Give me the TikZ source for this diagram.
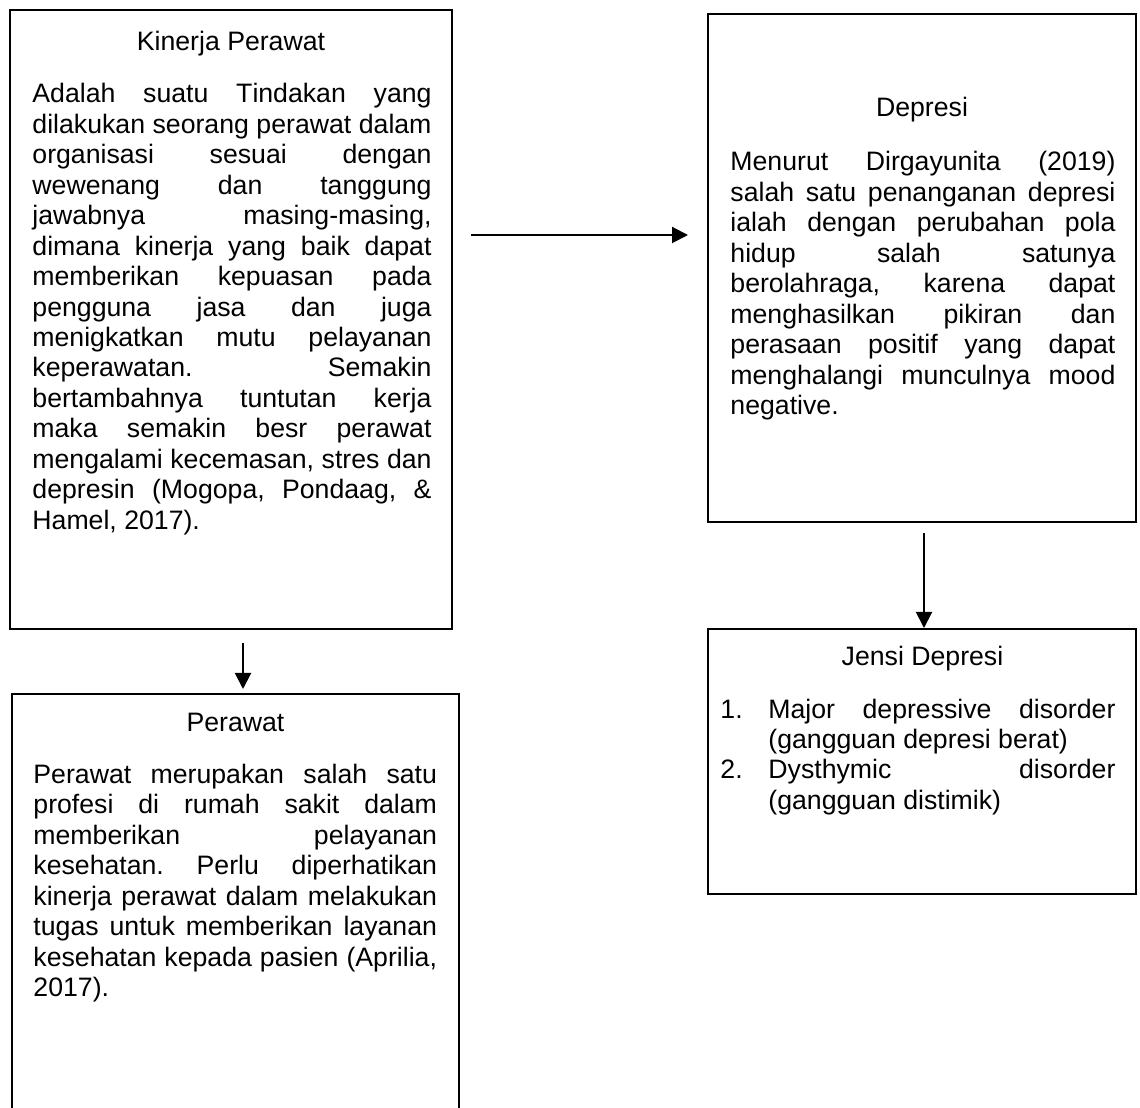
\documentclass[tikz,border=0pt]{standalone}
\usepackage{fontspec}
\setmainfont{Liberation Sans}[Kerning=Off]
\usetikzlibrary{arrows.meta}
\newcommand{\boxpar}[2]{\parbox[t]{#1}{\fontsize{12pt}{13.7pt}\selectfont\frenchspacing\hyphenpenalty=10000 \exhyphenpenalty=10000 \hbadness=10000 \tolerance=10000 #2}}
\tikzset{
  box/.style={draw, line width=0.9pt, anchor=north west, inner sep=0pt, outer sep=0pt},
  ttl/.style={anchor=base, inner sep=0pt, font=\fontsize{12pt}{13.7pt}\selectfont},
  txt/.style={anchor=base west, inner sep=0pt},
  conn/.style={line width=0.9pt, -{Triangle[length=7.2pt, width=7.2pt]}}
}
\begin{document}
\begin{tikzpicture}[x=0.45pt, y=-0.45pt]
\useasboundingbox (0,0) rectangle (1140,1108);
% boxes
\node[box, minimum width=198.9pt, minimum height=278.55pt] (k) at (10,10) {};
\node[box, minimum width=201.15pt, minimum height=193.5pt] (p) at (12,694) {};
\node[box, minimum width=192.6pt, minimum height=228.6pt] (d) at (708,14) {};
\node[box, minimum width=192.6pt, minimum height=119.25pt] (j) at (708,629) {};
% titles
\node[ttl] (kh) at (231,51) {Kinerja Perawat};
\node[ttl] (ph) at (235.5,731) {Perawat};
\node[ttl] (dh) at (922,117) {Depresi};
\node[ttl] (jh) at (922.5,666) {Jensi Depresi};
% bodies
\node[txt] (kt) at (32,103) {\boxpar{179.6pt}{%
Adalah suatu Tindakan yang\linebreak
dilakukan seorang perawat dalam\linebreak
organisasi sesuai dengan\linebreak
wewenang dan tanggung\linebreak
jawabnya masing-masing,\linebreak
dimana kinerja yang baik dapat\linebreak
memberikan kepuasan pada\linebreak
pengguna jasa dan juga\linebreak
menigkatkan mutu pelayanan\linebreak
keperawatan. Semakin\linebreak
bertambahnya tuntutan kerja\linebreak
maka semakin besr perawat\linebreak
mengalami kecemasan, stres dan\linebreak
depresin (Mogopa, Pondaag, \&\linebreak
Hamel, 2017).}};
\node[txt] (pt) at (33,783.5) {\boxpar{181.6pt}{%
Perawat merupakan salah satu\linebreak
profesi di rumah sakit dalam\linebreak
memberikan pelayanan\linebreak
kesehatan. Perlu diperhatikan\linebreak
kinerja perawat dalam melakukan\linebreak
tugas untuk memberikan layanan\linebreak
kesehatan kepada pasien (Aprilia,\linebreak
2017).}};
\node[txt] (dt) at (730,171) {\boxpar{173.25pt}{%
Menurut Dirgayunita (2019)\linebreak
salah satu penanganan depresi\linebreak
ialah dengan perubahan pola\linebreak
hidup salah satunya\linebreak
berolahraga, karena dapat\linebreak
menghasilkan pikiran dan\linebreak
perasaan positif yang dapat\linebreak
menghalangi munculnya mood\linebreak
negative.}};
\node[txt] (jt) at (720,718) {\boxpar{177.75pt}{%
\hangindent=21.6pt \hangafter=1 \makebox[21.6pt][l]{1.}Major depressive disorder\linebreak
(gangguan depresi berat)\par
\hangindent=21.6pt \hangafter=1 \makebox[21.6pt][l]{2.}Dysthymic disorder\linebreak
(gangguan distimik)}};
% connectors
\coordinate (row) at (0,235);
\coordinate (colL) at (243,0);
\coordinate (colR) at (924,0);
\draw[conn, shorten <=8.55pt, shorten >=9pt] (k.east |- row) -- (d.west |- row);
\draw[conn, shorten <=6.3pt, shorten >=2.25pt] (k.south -| colL) -- (p.north -| colL);
\draw[conn, shorten <=4.95pt, shorten >=0.45pt] (d.south -| colR) -- (j.north -| colR);
\end{tikzpicture}
\end{document}
